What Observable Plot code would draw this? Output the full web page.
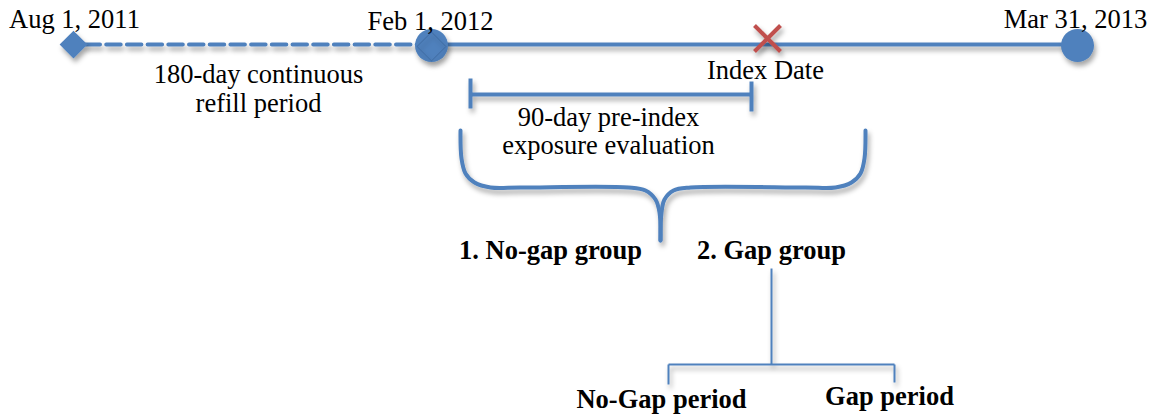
<!DOCTYPE html>
<html>
<head>
<meta charset="utf-8">
<script src="https://cdn.jsdelivr.net/npm/d3@7"></script>
<script src="https://cdn.jsdelivr.net/npm/@observablehq/plot@0.6"></script>
<style>
  html, body { margin: 0; padding: 0; background: #fff; }
  #chart svg { display: block; }
</style>
</head>
<body>
<div id="chart"></div>
<script>
// ---- Diagram data (layout units: 1 unit = 1 px of the 1151x419 canvas) ----
// Timeline milestones
const milestoneLabels = ["Aug 1, 2011", "Feb 1, 2012", "Mar 31, 2013"];
const milestoneX      = [73, 431, 1077];
const milestoneLabelX = [74, 430, 1075];
const milestoneLabelY = [19, 21, 19];
const timelineY = 44;

// Index date marker
const indexDateX = 767;
const indexDateY = 38;

// Annotation texts (multi-line blocks)
const noteLines = ["180-day continuous\nrefill period", "Index Date",
                   "90-day pre-index\nexposure evaluation"];
const noteX = [258, 765, 608];
const noteY = [88, 69, 130.5];

// Group labels (bold)
const groupLines = ["1. No-gap group", "2. Gap group", "No-Gap period", "Gap period"];
const groupX = [550, 771, 661, 889];
const groupY = [250, 250, 399, 396];

// 90-day bracket: [x1, y1, x2, y2]
const bracketSegs = [[470, 94, 751, 94], [470, 78, 470, 108], [751, 81, 751, 111]];

// Tree under "2. Gap group": [x1, y1, x2, y2]
const treeSegs = [[771, 268, 771, 364], [668, 364, 894, 364], [668, 364, 668, 384], [894, 364, 894, 382]];

// Curly brace outline points (left arm and right arm meet at the tip)
const braceLeft  = [[460,130],[461,158],[465,173],[474,182],[490,187],[520,187],[628,187],[645,190],[655,199],[659,212],[660,240]];
const braceRight = [[865,130],[864,158],[860,173],[851,182],[835,187],[805,187],[690,187],[673,190],[664,199],[661,212],[660,240]];

// ---- Build tables ----
const blue = "#4F81BD";
const red = "#C0504D";
const font = "Liberation Serif, Times New Roman, serif";
const fs = 26.5;

const milestones = milestoneLabels.map((label, i) => ({label, x: milestoneX[i], lx: milestoneLabelX[i], ly: milestoneLabelY[i]}));
const notes = noteLines.map((t, i) => ({t, x: noteX[i], y: noteY[i]}));
const groups = groupLines.map((t, i) => ({t, x: groupX[i], y: groupY[i]}));
const toSeg = s => ({x1: s[0], y1: s[1], x2: s[2], y2: s[3]});
const brace = [
  ...braceLeft.map(p => ({x: p[0], y: p[1], side: "L"})),
  ...braceRight.map(p => ({x: p[0], y: p[1], side: "R"}))
];
const dashed = [{x: milestoneX[0] + 12, y: timelineY}, {x: milestoneX[1], y: timelineY}];
const solid  = [{x: milestoneX[1], y: timelineY}, {x: milestoneX[2], y: timelineY}];
const cross = [
  {x1: indexDateX - 13, y1: indexDateY - 13, x2: indexDateX + 13, y2: indexDateY + 13},
  {x1: indexDateX - 13, y1: indexDateY + 13, x2: indexDateX + 13, y2: indexDateY - 13}
];

const chart = Plot.plot({
  width: 1151,
  height: 419,
  margin: 0,
  style: {background: "#fff", fontFamily: font},
  x: {domain: [0, 1151], range: [0, 1151], axis: null},
  y: {domain: [0, 419], range: [0, 419], axis: null},
  marks: [
    // timeline
    Plot.line(dashed, {x: "x", y: "y", stroke: blue, strokeWidth: 4, strokeDasharray: "14.5,6.2"}),
    Plot.line(solid, {x: "x", y: "y", stroke: blue, strokeWidth: 4}),
    // start diamond
    Plot.dot([milestones[0]], {x: "x", y: timelineY, symbol: "diamond2", r: 12.5, fill: blue, stroke: "none"}),
    // circles at Feb 1, 2012 and Mar 31, 2013
    Plot.dot(milestones.slice(1), {x: "x", y: timelineY + 1, r: 16.5, fill: blue, stroke: "none"}),
    Plot.dot([milestones[1]], {x: "x", y: timelineY + 2, symbol: "diamond2", r: 13, fill: "none", stroke: "#3d6aa0", strokeWidth: 1}),
    // index date cross
    Plot.link(cross, {x1: "x1", y1: "y1", x2: "x2", y2: "y2", stroke: red, strokeWidth: 4}),
    // 90-day bracket
    Plot.link(bracketSegs.map(toSeg), {x1: "x1", y1: "y1", x2: "x2", y2: "y2", stroke: blue, strokeWidth: 4}),
    // curly brace
    Plot.line(brace, {x: "x", y: "y", z: "side", stroke: blue, strokeWidth: 4, curve: "catmull-rom", strokeLinecap: "round"}),
    // tree
    Plot.link(treeSegs.map(toSeg), {x1: "x1", y1: "y1", x2: "x2", y2: "y2", stroke: blue, strokeWidth: 2}),
    // texts
    Plot.text(milestones, {x: "lx", y: "ly", text: "label", fontSize: fs, fill: "#000", fontFamily: font}),
    Plot.text(notes, {x: "x", y: "y", text: "t", lineHeight: 1.08, fontSize: fs, fill: "#000", fontFamily: font}),
    Plot.text(groups, {x: "x", y: "y", text: "t", fontSize: fs, fontWeight: "bold", fill: "#000", fontFamily: font})
  ]
});

// soft drop shadow (user-space filter region so flat lines keep rendering)
const svg = d3.select(chart);
const f = svg.insert("defs", ":first-child").append("filter")
  .attr("id", "soft-shadow")
  .attr("filterUnits", "userSpaceOnUse")
  .attr("x", 0).attr("y", 0).attr("width", 1151).attr("height", 419);
f.append("feDropShadow")
  .attr("dx", 2).attr("dy", 4).attr("stdDeviation", 2.5)
  .attr("flood-color", "#000").attr("flood-opacity", 0.35);
svg.selectAll('g[aria-label="line"], g[aria-label="dot"], g[aria-label="link"]').attr("filter", "url(#soft-shadow)");

document.getElementById("chart").appendChild(chart);
</script>
</body>
</html>
